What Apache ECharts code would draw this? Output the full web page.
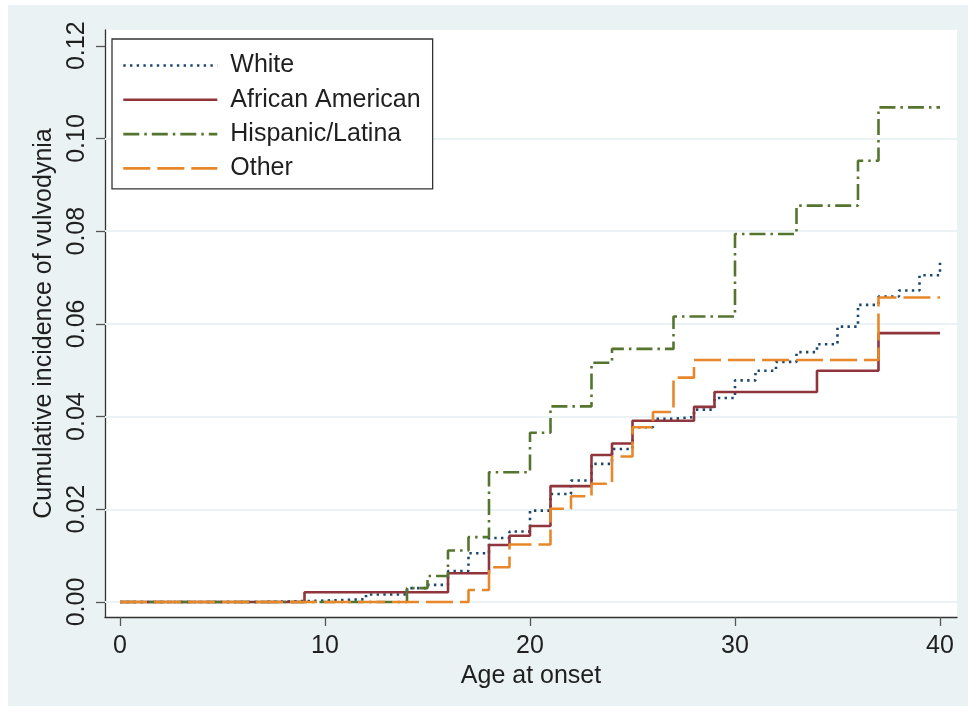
<!DOCTYPE html>
<html>
<head>
<meta charset="utf-8">
<script src="https://cdn.jsdelivr.net/npm/echarts@6/dist/echarts.min.js"></script>
<style>
  html, body { margin: 0; padding: 0; background: #ffffff; }
  #chart { width: 975px; height: 711px; }
</style>
</head>
<body>
<div id="chart"></div>
<script>
// ---- data ----
const seriesNames = ['White', 'African American', 'Hispanic/Latina', 'Other'];

const whiteAges = [0, 7, 10, 12, 14, 15, 16, 17, 18, 19, 20, 21, 22, 23, 24, 25, 26, 27, 28, 29, 30, 31, 32, 33, 34, 35, 36, 37, 38, 39, 40];
const whiteVals = [0, 0.0003, 0.0006, 0.0016, 0.0030, 0.0037, 0.0067, 0.0105, 0.0138, 0.0152, 0.0197, 0.0233, 0.0262, 0.0298, 0.0330, 0.0377, 0.0395, 0.0399, 0.0415, 0.0440, 0.0478, 0.0499, 0.0518, 0.0539, 0.0556, 0.0594, 0.0641, 0.0659, 0.0672, 0.0705, 0.0736];

const aaAges = [0, 9, 16, 18, 19, 20, 21, 23, 24, 25, 28, 29, 34, 37, 40];
const aaVals = [0, 0.0021, 0.0062, 0.0123, 0.0143, 0.0164, 0.0250, 0.0317, 0.0342, 0.0391, 0.0421, 0.0453, 0.0499, 0.0580, 0.0580];

const hispAges = [0, 14, 15, 16, 17, 18, 20, 21, 23, 24, 27, 30, 33, 36, 37, 40];
const hispVals = [0, 0.0030, 0.0056, 0.0111, 0.0140, 0.0280, 0.0365, 0.0422, 0.0516, 0.0546, 0.0616, 0.0794, 0.0855, 0.0952, 0.1067, 0.1067];

const otherAges = [0, 17, 18, 19, 21, 22, 23, 24, 25, 26, 27, 28, 37, 40];
const otherVals = [0, 0.0026, 0.0075, 0.0124, 0.0201, 0.0228, 0.0255, 0.0314, 0.0377, 0.0410, 0.0484, 0.0522, 0.0657, 0.0657];

const xTicks = [0, 10, 20, 30, 40];
const yTicks = [0, 0.02, 0.04, 0.06, 0.08, 0.10, 0.12];
const yGridLines = [0, 0.02, 0.04, 0.06, 0.08, 0.10];

// ---- helpers ----
function pairs(xs, ys) { return xs.map((x, i) => [x, ys[i]]); }

const FONT = '"Liberation Sans", Arial, Helvetica, sans-serif';
const TEXT = '#1f1f1f';

const chart = echarts.init(document.getElementById('chart'), null, { renderer: 'canvas' });

function stepSeries(name, xs, ys, color, type) {
  return {
    name: name,
    type: 'line',
    step: 'end',
    symbol: 'none',
    showSymbol: false,
    z: 3,
    data: pairs(xs, ys),
    lineStyle: { color: color, width: 2.6, type: type, cap: 'butt' },
    itemStyle: { color: color },
    emphasis: { disabled: true }
  };
}

const option = {
  animation: false,
  backgroundColor: '#ffffff',
  graphic: [{
    type: 'rect',
    z: -10,
    silent: true,
    shape: { x: 8, y: 5, width: 960, height: 701 },
    style: { fill: '#eaf2f3' }
  }],
  grid: {
    left: 105, top: 30, right: 18, bottom: 94,
    show: true, backgroundColor: '#ffffff', borderWidth: 0,
    containLabel: false
  },
  legend: {
    orient: 'vertical',
    left: 112, top: 39,
    data: seriesNames,
    padding: [14, 12, 8, 10],
    itemWidth: 94,
    itemHeight: 14,
    itemGap: 9.3,
    backgroundColor: '#ffffff',
    borderColor: '#333333',
    borderWidth: 1.3,
    borderRadius: 0,
    selectedMode: false,
    itemStyle: { opacity: 0, borderWidth: 0 },
    lineStyle: { width: 2.6 },
    textStyle: { fontFamily: FONT, fontSize: 25, color: TEXT, padding: [0, 0, 0, 8], lineHeight: 25 }
  },
  xAxis: {
    type: 'value',
    min: -0.732, max: 40.83,
    name: 'Age at onset',
    nameLocation: 'middle',
    nameGap: 40,
    nameTextStyle: { fontFamily: FONT, fontSize: 25, color: TEXT },
    axisLine: { show: true, onZero: false, lineStyle: { color: '#333333', width: 1.3 } },
    axisTick: { show: true, customValues: xTicks, length: 9, lineStyle: { color: '#555555', width: 1.3 } },
    axisLabel: { customValues: xTicks, margin: 17, fontFamily: FONT, fontSize: 25, color: TEXT },
    splitLine: { show: false }
  },
  yAxis: {
    type: 'value',
    min: -0.00324, max: 0.1234,
    name: 'Cumulative incidence of vulvodynia',
    nameLocation: 'middle',
    nameGap: 44,
    nameRotate: 90,
    nameTextStyle: { fontFamily: FONT, fontSize: 25, color: TEXT },
    axisLine: { show: true, onZero: false, lineStyle: { color: '#333333', width: 1.3 } },
    axisTick: { show: true, customValues: yTicks, length: 9, lineStyle: { color: '#555555', width: 1.3 } },
    axisLabel: {
      customValues: yTicks, rotate: 90, margin: 15,
      fontFamily: FONT, fontSize: 25, color: TEXT,
      formatter: function (v) { return v.toFixed(2); }
    },
    splitLine: { show: false }
  },
  series: [
    {
      name: 'gridlines',
      type: 'line',
      data: [],
      z: 1,
      silent: true,
      markLine: {
        silent: true,
        z: 1,
        symbol: ['none', 'none'],
        label: { show: false },
        lineStyle: { color: '#eaf2f3', width: 2, type: 'solid' },
        emphasis: { disabled: true },
        animation: false,
        data: yGridLines.map(v => ({ yAxis: v }))
      }
    },
    stepSeries('White', whiteAges, whiteVals, '#1a476f', [2.4, 4.3]),
    stepSeries('African American', aaAges, aaVals, '#90353b', 'solid'),
    stepSeries('Hispanic/Latina', hispAges, hispVals, '#55752f', [16, 5, 2.5, 5]),
    stepSeries('Other', otherAges, otherVals, '#e8872a', [27, 7])
  ]
};

chart.setOption(option);
</script>
</body>
</html>
